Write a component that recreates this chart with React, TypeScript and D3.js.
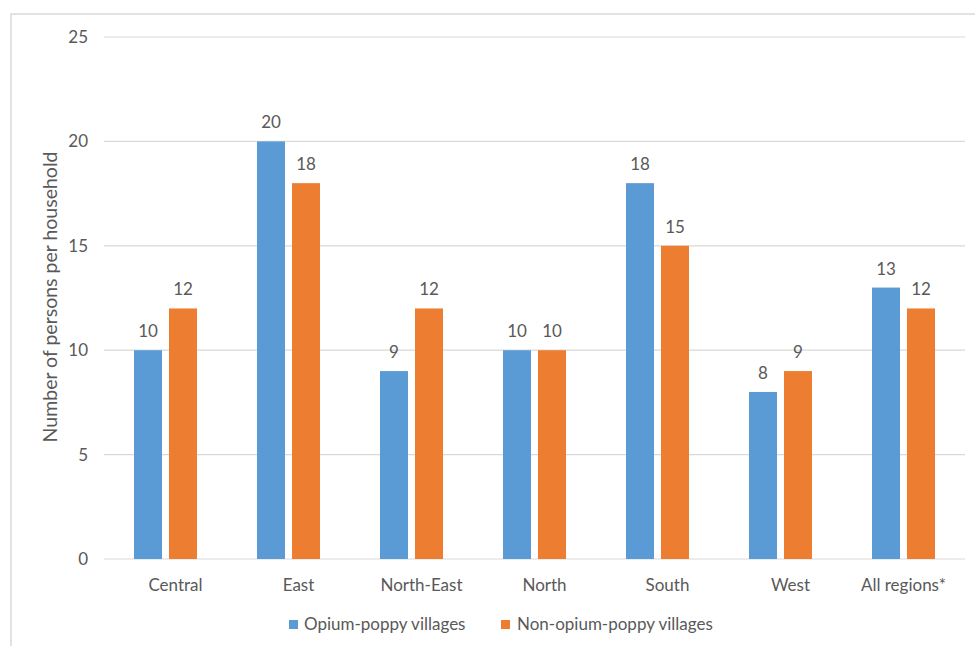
import React from "react";
import * as d3 from "d3";

const categories = ["Central", "East", "North-East", "North", "South", "West", "All regions*"];
const opiumValues = [10, 20, 9, 10, 18, 8, 13];
const nonOpiumValues = [12, 18, 12, 10, 15, 9, 12];
const seriesNames = ["Opium-poppy villages", "Non-opium-poppy villages"];
const yTicks = [0, 5, 10, 15, 20, 25];

const W = 975;
const H = 646;
const FONT = "Lato, 'Open Sans', sans-serif";
const TEXT = "#595959";
const GRID = "#d9d9d9";
const COLORS = ["#5b9bd5", "#ed7d31"];

export default function App() {
  const left = 104;
  const right = 965;
  const top = 37;
  const bottom = 559;

  const x = d3.scaleBand<string>().domain(categories).range([left, right]).padding(0);
  const y = d3.scaleLinear().domain([0, 25]).range([bottom, top]);
  const barW = 28;
  const gap = 7;

  const series = [opiumValues, nonOpiumValues];

  return (
    <svg
      width={W}
      height={H}
      style={{ position: "absolute", left: 0, top: 0, background: "#fff" }}
      fontFamily={FONT}
    >
      <rect x={11} y={14} width={W + 20} height={H + 20} fill="#fff" stroke={GRID} strokeWidth={1.5} />
      {yTicks.map((t) => (
        <g key={t}>
          <line x1={left} x2={right} y1={y(t)} y2={y(t)} stroke={GRID} strokeWidth={1.2} />
          <text x={88} y={y(t)} dy="0.35em" textAnchor="end" fontSize={17} fill={TEXT}>
            {t}
          </text>
        </g>
      ))}
      <text
        transform={`translate(50,297) rotate(-90)`}
        textAnchor="middle"
        dy="0.35em"
        fontSize={19.5}
        fill={TEXT}
      >
        Number of persons per household
      </text>
      {categories.map((c, i) => {
        const cx = (x(c) as number) + x.bandwidth() / 2;
        return (
          <g key={c}>
            {series.map((vals, s) => {
              const bx = s === 0 ? cx - gap / 2 - barW : cx + gap / 2;
              const v = vals[i];
              return (
                <g key={s}>
                  <rect x={bx} y={y(v)} width={barW} height={bottom - y(v)} fill={COLORS[s]} />
                  <text
                    x={bx + barW / 2}
                    y={y(v) - 13}
                    textAnchor="middle"
                    fontSize={17}
                    fill={TEXT}
                  >
                    {v}
                  </text>
                </g>
              );
            })}
            <text x={cx + (i === categories.length - 1 ? 0 : 10)} y={591} textAnchor="middle" fontSize={17} fill={TEXT}>
              {c}
            </text>
          </g>
        );
      })}
      <g>
        <rect x={289} y={620} width={9} height={9} fill={COLORS[0]} />
        <text x={304} y={630} fontSize={17} fill={TEXT}>
          {seriesNames[0]}
        </text>
        <rect x={501} y={620} width={9} height={9} fill={COLORS[1]} />
        <text x={517} y={630} fontSize={17} fill={TEXT}>
          {seriesNames[1]}
        </text>
      </g>
    </svg>
  );
}
